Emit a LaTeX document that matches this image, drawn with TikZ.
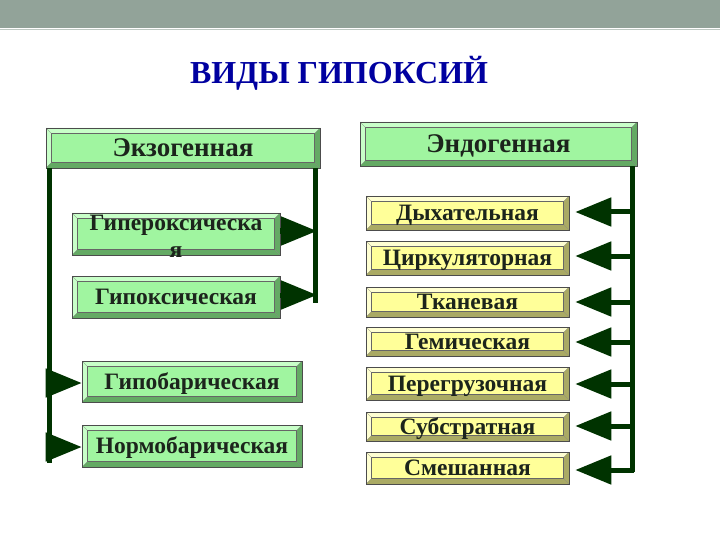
\documentclass[tikz,border=0pt]{standalone}
\usepackage{fontspec}
\setmainfont{Liberation Serif}
\usetikzlibrary{arrows.meta,calc}
\definecolor{barcol}{RGB}{146,163,153}
\definecolor{titleblue}{RGB}{0,0,160}
\definecolor{gface}{RGB}{160,245,160}
\definecolor{glight}{RGB}{200,255,200}
\definecolor{gdark}{RGB}{100,170,100}
\definecolor{yface}{RGB}{255,255,153}
\definecolor{ylight}{RGB}{255,255,210}
\definecolor{ydark}{RGB}{170,170,100}
\definecolor{linecol}{RGB}{0,51,0}
\definecolor{txt}{RGB}{28,36,28}
\tikzset{
  bevel/.style n args={3}{draw=black!70, line width=0.6pt, fill=#1, inner sep=0pt,
    font=\bfseries, text=txt, text depth=0pt, text height=15.5pt,
    path picture={
      \coordinate (nw) at (path picture bounding box.north west);
      \coordinate (ne) at (path picture bounding box.north east);
      \coordinate (sw) at (path picture bounding box.south west);
      \coordinate (se) at (path picture bounding box.south east);
      \fill[#2] (nw) -- (ne) -- ($(ne)+(-5.5pt,-5.5pt)$) -- ($(nw)+(5.5pt,-5.5pt)$) -- cycle;
      \fill[#2] (nw) -- (sw) -- ($(sw)+(5.5pt,5.5pt)$) -- ($(nw)+(5.5pt,-5.5pt)$) -- cycle;
      \fill[#3] (sw) -- (se) -- ($(se)+(-5.5pt,5.5pt)$) -- ($(sw)+(5.5pt,5.5pt)$) -- cycle;
      \fill[#3] (ne) -- (se) -- ($(se)+(-5.5pt,5.5pt)$) -- ($(ne)+(-5.5pt,-5.5pt)$) -- cycle;
      \draw[black!60, line width=0.4pt] ($(nw)+(5.5pt,-5.5pt)$) rectangle ($(se)+(-5.5pt,5.5pt)$);
      \draw[black!50, line width=0.3pt] (nw) -- ($(nw)+(5.5pt,-5.5pt)$) (ne) -- ($(ne)+(-5.5pt,-5.5pt)$)
        (sw) -- ($(sw)+(5.5pt,5.5pt)$) (se) -- ($(se)+(-5.5pt,5.5pt)$);
    }},
  bigtxt/.style={font=\bfseries\fontsize{27}{30}\selectfont, text height=18pt},
  midtxt/.style={font=\bfseries\fontsize{23.5}{27}\selectfont},
  gbox/.style={bevel={gface}{glight}{gdark}, midtxt},
  ybox/.style={bevel={yface}{ylight}{ydark}, midtxt},
  lbl/.style={midtxt, text=txt, inner sep=0pt, anchor=base},
  conn/.style={draw=linecol, line width=5pt},
  arr/.style={draw=linecol, line width=5pt, -{Triangle[length=36pt,width=28pt]}},
}
\begin{document}
\begin{tikzpicture}[x=1pt,y=-1pt]
\useasboundingbox (0,0) rectangle (720,540);
\fill[barcol] (0,0) rectangle (720,28);
\draw[barcol!60, line width=0.8pt] (0,29) -- (720,29);
\node[font=\bfseries\fontsize{32}{36}\selectfont, text=titleblue, anchor=base, inner sep=0pt] (title) at (339,84) {ВИДЫ ГИПОКСИЙ};
% left column
\node[gbox, bigtxt, minimum width=274pt, minimum height=40pt] (exo) at (183,148) {Экзогенная};
\node[gbox, minimum width=208pt, minimum height=42pt] (hyper) at (176,234) {};
\node[lbl] (hypertxt1) at (176,230) {Гипероксическа};
\node[lbl] (hypertxt2) at (176,257) {я};
\node[gbox, minimum width=208pt, minimum height=42pt] (hypox) at (176,297) {Гипоксическая};
\node[gbox, minimum width=220pt, minimum height=41pt] (hypobar) at (192,381.5) {Гипобарическая};
\node[gbox, minimum width=220pt, minimum height=42pt] (normobar) at (192,446) {Нормобарическая};
% right column
\node[gbox, bigtxt, minimum width=277pt, minimum height=44pt] (endo) at (498.5,144) {Эндогенная};
\node[ybox, minimum width=203pt, minimum height=34pt] (y1) at (467.5,213) {Дыхательная};
\node[ybox, minimum width=203pt, minimum height=34pt] (y2) at (467.5,258) {Циркуляторная};
\node[ybox, minimum width=203pt, minimum height=30pt] (y3) at (467.5,302) {Тканевая};
\node[ybox, minimum width=203pt, minimum height=29pt] (y4) at (467.5,341.5) {Гемическая};
\node[ybox, minimum width=203pt, minimum height=33pt] (y5) at (467.5,383.5) {Перегрузочная};
\node[ybox, minimum width=203pt, minimum height=29pt] (y6) at (467.5,426.5) {Субстратная};
\node[ybox, minimum width=203pt, minimum height=32pt] (y7) at (467.5,468) {Смешанная};
% exogenous connectors
\coordinate (lt) at (49,168);
\coordinate (lb) at (49,463);
\draw[conn] (lt) -- (lb);
\draw[arr] (49,383) -- (hypobar.west |- 0,383);
\draw[arr] (49,447) -- (normobar.west |- 0,447);
\coordinate (rt) at (315,168);
\coordinate (rb) at (315,303);
\draw[conn] (rt) -- (rb);
\draw[arr] (hyper.east |- 0,231) -- (317,231);
\draw[arr] (hypox.east |- 0,295) -- (317,295);
% endogenous connectors
\coordinate (et) at (632,166);
\coordinate (eb) at (632,472);
\draw[conn] (et) -- (eb);
\foreach \n/\yy in {y1/212,y2/256,y3/302,y4/342,y5/384,y6/426,y7/470}{
  \draw[arr, shorten >=6pt] (634,\yy) -- (\n.east |- 0,\yy);
}
\end{tikzpicture}
\end{document}
